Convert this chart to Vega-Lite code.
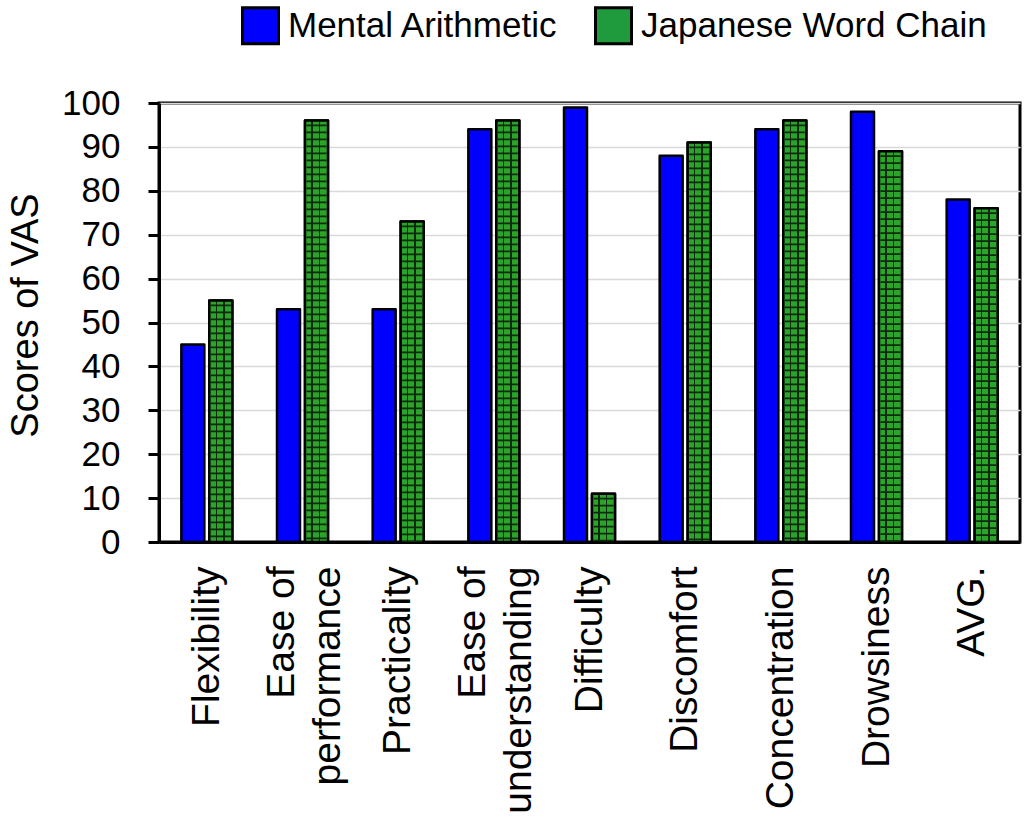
{
  "$schema": "https://vega.github.io/schema/vega-lite/v6.json",
  "width": 861,
  "height": 439,
  "autosize": {"type": "none"},
  "padding": {"left": 159, "top": 103, "right": 10, "bottom": 286},
  "background": "white",
  "config": {
    "font": "Liberation Sans",
    "view": {"stroke": "black", "strokeWidth": 3},
    "axis": {"labelColor": "black", "titleColor": "black", "domainColor": "black", "tickColor": "black"}
  },
  "data": {
    "values": [
      {"item": "Flexibility", "task": "Mental Arithmetic", "score": 45},
      {"item": "Flexibility", "task": "Japanese Word Chain", "score": 55},
      {"item": "Ease of performance", "task": "Mental Arithmetic", "score": 53},
      {"item": "Ease of performance", "task": "Japanese Word Chain", "score": 96},
      {"item": "Practicality", "task": "Mental Arithmetic", "score": 53},
      {"item": "Practicality", "task": "Japanese Word Chain", "score": 73},
      {"item": "Ease of understanding", "task": "Mental Arithmetic", "score": 94},
      {"item": "Ease of understanding", "task": "Japanese Word Chain", "score": 96},
      {"item": "Difficulty", "task": "Mental Arithmetic", "score": 99},
      {"item": "Difficulty", "task": "Japanese Word Chain", "score": 11},
      {"item": "Discomfort", "task": "Mental Arithmetic", "score": 88},
      {"item": "Discomfort", "task": "Japanese Word Chain", "score": 91},
      {"item": "Concentration", "task": "Mental Arithmetic", "score": 94},
      {"item": "Concentration", "task": "Japanese Word Chain", "score": 96},
      {"item": "Drowsiness", "task": "Mental Arithmetic", "score": 98},
      {"item": "Drowsiness", "task": "Japanese Word Chain", "score": 89},
      {"item": "AVG.", "task": "Mental Arithmetic", "score": 78},
      {"item": "AVG.", "task": "Japanese Word Chain", "score": 76}
    ]
  },
  "encoding": {
    "x": {
      "field": "item",
      "type": "nominal",
      "sort": null,
      "scale": {"paddingInner": 0.467, "paddingOuter": 0.2335},
      "axis": {
        "title": null,
        "labelAngle": -90,
        "labelFontSize": 39,
        "labelPadding": 24,
        "labelLimit": 0,
        "labelLineHeight": 46,
        "labelOffset": {"condition": {"test": "datum.value == 'Ease of performance' || datum.value == 'Ease of understanding'", "value": -21}, "value": 0},
        "labelExpr": "datum.value == 'Ease of performance' ? ['Ease of', 'performance'] : datum.value == 'Ease of understanding' ? ['Ease of', 'understanding'] : datum.value",
        "ticks": false,
        "domainWidth": 3,
        "grid": false
      }
    },
    "xOffset": {
      "field": "task",
      "type": "nominal",
      "scale": {"domain": ["Mental Arithmetic", "Japanese Word Chain"], "paddingInner": 0.1786, "paddingOuter": 0}
    },
    "y": {
      "field": "score",
      "type": "quantitative",
      "scale": {"domain": [0, 100], "nice": false},
      "axis": {
        "title": "Scores of VAS",
        "titleFontSize": 38,
        "titleFontWeight": "normal",
        "titleAngle": -90,
        "titleAlign": "center",
        "titleBaseline": "alphabetic",
        "titleX": -122,
        "titleY": 212,
        "values": [0, 10, 20, 30, 40, 50, 60, 70, 80, 90, 100],
        "labelFontSize": 35,
        "labelPadding": 28,
        "tickSize": 11,
        "tickWidth": 3,
        "domainWidth": 3,
        "grid": true,
        "gridColor": "#d9d9d9",
        "gridWidth": 1.5
      }
    }
  },
  "layer": [
    {
      "mark": {"type": "bar", "stroke": "black", "strokeWidth": 2.5, "strokeJoin": "round"},
      "encoding": {
        "color": {
          "field": "task",
          "type": "nominal",
          "scale": {"domain": ["Mental Arithmetic", "Japanese Word Chain"], "range": ["#0000ff", "#1f9a3c"]},
          "legend": {
            "title": null,
            "orient": "none",
            "legendX": 82,
            "legendY": -97,
            "direction": "horizontal",
            "padding": 0,
            "symbolType": "square",
            "symbolSize": 1296,
            "symbolStrokeColor": "black",
            "symbolStrokeWidth": 3,
            "symbolOpacity": 1,
            "labelFontSize": 35,
            "labelColor": "black",
            "labelLimit": 0,
            "labelOffset": 8,
            "columnPadding": 30
          }
        }
      }
    },
    {
      "transform": [{"filter": "datum.task == 'Japanese Word Chain'"}],
      "mark": {
        "type": "bar",
        "stroke": "black",
        "strokeWidth": 2.5,
        "strokeJoin": "round",
        "fill": {
          "gradient": "linear",
          "x1": 0, "y1": 0, "x2": 1, "y2": 0,
          "stops": [
            {"offset": 0, "color": "#2aa52a"},
            {"offset": 0.27, "color": "#2aa52a"},
            {"offset": 0.27, "color": "#0f2a0f"},
            {"offset": 0.34, "color": "#0f2a0f"},
            {"offset": 0.34, "color": "#2aa52a"},
            {"offset": 0.6, "color": "#2aa52a"},
            {"offset": 0.6, "color": "#0f2a0f"},
            {"offset": 0.67, "color": "#0f2a0f"},
            {"offset": 0.67, "color": "#2aa52a"},
            {"offset": 1, "color": "#2aa52a"}
          ]
        }
      }
    },
    {
      "transform": [{"filter": "datum.task == 'Japanese Word Chain'"}],
      "mark": {"type": "rule", "stroke": "#0f2a0f", "strokeWidth": 20, "strokeDash": [1.7, 5.3], "strokeDashOffset": -4},
      "encoding": {"y2": {"datum": 0}}
    }
  ]
}
